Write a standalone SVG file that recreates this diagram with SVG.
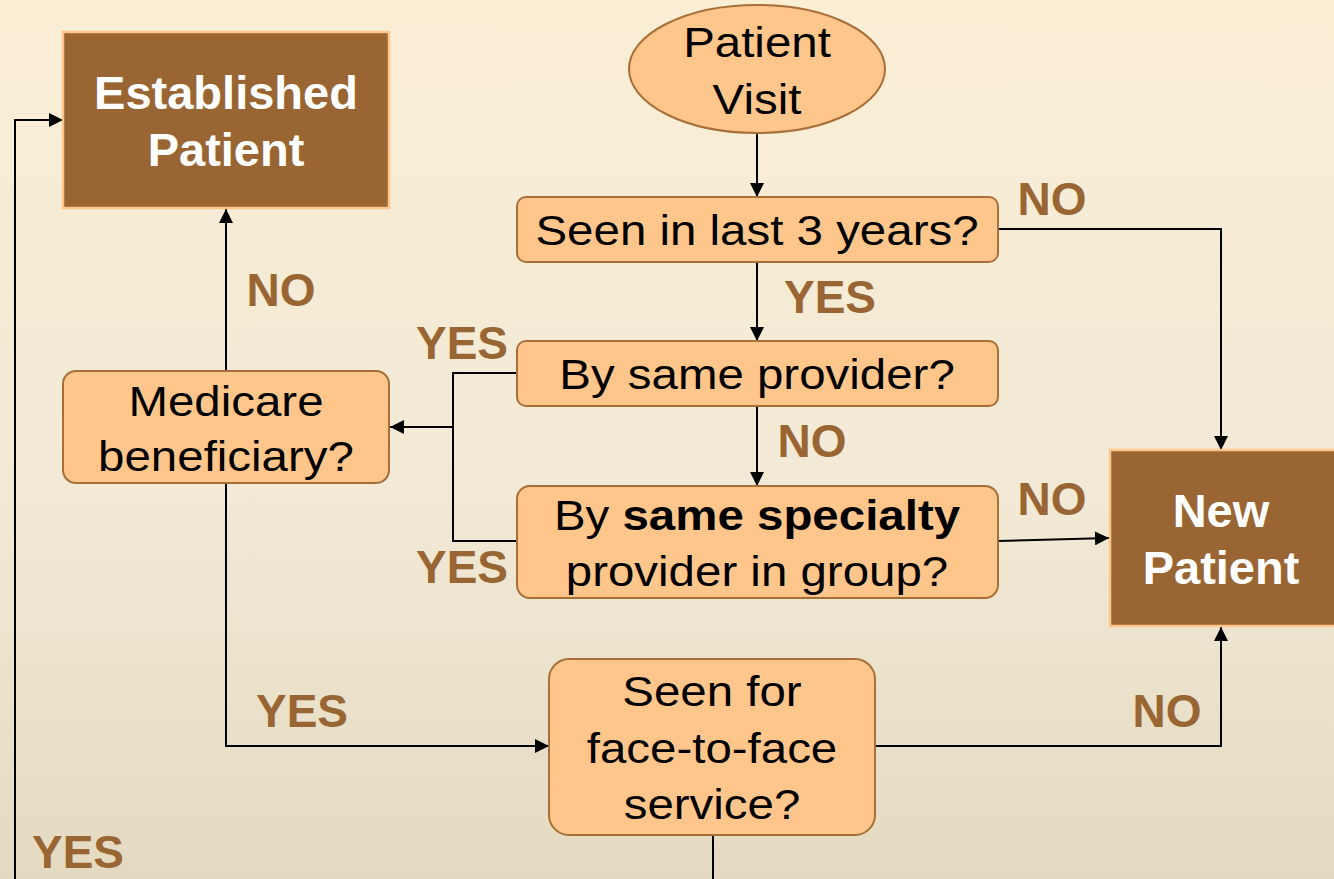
<svg xmlns="http://www.w3.org/2000/svg" width="1334" height="879" viewBox="0 0 1334 879">
<defs>
<linearGradient id="bg" x1="0" y1="0" x2="0" y2="1">
<stop offset="0" stop-color="#FAEED5"/>
<stop offset="0.55" stop-color="#F2EAD6"/>
<stop offset="1" stop-color="#E4DAC1"/>
</linearGradient>
<marker id="ah" viewBox="0 0 10 10" refX="10" refY="5" markerWidth="14" markerHeight="14" markerUnits="userSpaceOnUse" orient="auto">
<path d="M0,0 L10,5 L0,10 Z" fill="#000"/>
</marker>
</defs>
<style>
.dec{fill:#FFC68C;stroke:#A86E38;stroke-width:2}
.term{fill:#996633;stroke:#FFC58A;stroke-width:2.5}
.t{font-family:"Liberation Sans",Arial,sans-serif;font-size:42px;fill:#000;text-anchor:middle}
.tw{font-family:"Liberation Sans",Arial,sans-serif;font-size:47px;font-weight:bold;fill:#fff;text-anchor:middle}
.lb{font-family:"Liberation Sans",Arial,sans-serif;font-size:46px;font-weight:bold;fill:#996633;text-anchor:middle}
.c{fill:none;stroke:#000;stroke-width:2}
.ca{fill:none;stroke:#000;stroke-width:2;marker-end:url(#ah)}
</style>
<rect x="0" y="0" width="1334" height="879" fill="url(#bg)"/>

<g id="connectors">
<line class="ca" x1="757" y1="134" x2="757" y2="197"/>
<polyline class="ca" points="998,229 1221,229 1221,450"/>
<line class="ca" x1="757" y1="262" x2="757" y2="341"/>
<line class="ca" x1="757" y1="406" x2="757" y2="486"/>
<polyline class="c" points="517,373 453,373 453,541 517,541"/>
<line class="ca" x1="453" y1="427" x2="390" y2="427"/>
<line class="ca" x1="226" y1="371" x2="226" y2="209"/>
<polyline class="ca" points="226,483 226,746 549,746"/>
<polyline class="ca" points="875,746 1221,746 1221,627"/>
<line class="ca" x1="998" y1="541" x2="1109" y2="538"/>
<line class="c" x1="713" y1="835" x2="713" y2="879"/>
<polyline class="ca" points="15,879 15,120 63,120"/>
</g>

<g id="labels">
<text class="lb" x="1052" y="215">NO</text>
<text class="lb" x="830" y="313">YES</text>
<text class="lb" x="812" y="457">NO</text>
<text class="lb" x="462" y="359">YES</text>
<text class="lb" x="462" y="583">YES</text>
<text class="lb" x="1052" y="515">NO</text>
<text class="lb" x="281" y="306">NO</text>
<text class="lb" x="302" y="727">YES</text>
<text class="lb" x="1167" y="727">NO</text>
<text class="lb" x="78" y="868">YES</text>
</g>

<g id="established">
<rect class="term" x="63" y="32" width="326" height="176"/>
<text class="tw" x="226" y="109">Established</text>
<text class="tw" x="226" y="166">Patient</text>
</g>

<g id="visit">
<ellipse class="dec" cx="757" cy="69" rx="128" ry="64"/>
<text class="t" transform="translate(757,57) scale(1.13,1)">Patient</text>
<text class="t" transform="translate(757,114) scale(1.13,1)">Visit</text>
</g>

<g id="seen3">
<rect class="dec" x="517" y="197" width="481" height="65" rx="9"/>
<text class="t" transform="translate(757,245) scale(1.13,1)">Seen in last 3 years?</text>
</g>

<g id="sameprov">
<rect class="dec" x="517" y="341" width="481" height="65" rx="9"/>
<text class="t" transform="translate(757,389) scale(1.13,1)">By same provider?</text>
</g>

<g id="samespec">
<rect class="dec" x="517" y="486" width="481" height="112" rx="13"/>
<text class="t" transform="translate(757,530) scale(1.13,1)">By <tspan font-weight="bold">same specialty</tspan></text>
<text class="t" transform="translate(757,586) scale(1.13,1)">provider in group?</text>
</g>

<g id="medicare">
<rect class="dec" x="63" y="371" width="326" height="112" rx="13"/>
<text class="t" transform="translate(226,416) scale(1.13,1)">Medicare</text>
<text class="t" transform="translate(226,471) scale(1.13,1)">beneficiary?</text>
</g>

<g id="facetoface">
<rect class="dec" x="549" y="659" width="326" height="176" rx="20"/>
<text class="t" transform="translate(712,706) scale(1.13,1)">Seen for</text>
<text class="t" transform="translate(712,763) scale(1.13,1)">face-to-face</text>
<text class="t" transform="translate(712,819) scale(1.13,1)">service?</text>
</g>

<g id="newpatient">
<rect class="term" x="1110" y="450" width="226" height="176"/>
<text class="tw" x="1221" y="527">New</text>
<text class="tw" x="1221" y="584">Patient</text>
</g>
</svg>
